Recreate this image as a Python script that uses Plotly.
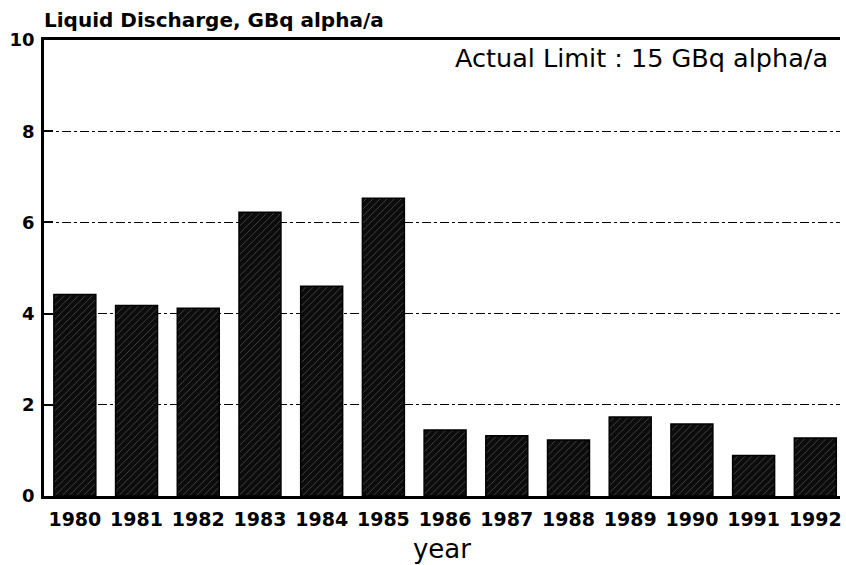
import plotly.graph_objects as go

# Annual liquid alpha discharge, GBq alpha per year
years = ["1980", "1981", "1982", "1983", "1984", "1985", "1986",
         "1987", "1988", "1989", "1990", "1991", "1992"]
discharge = [4.42, 4.18, 4.12, 6.22, 4.6, 6.53, 1.45,
             1.32, 1.23, 1.73, 1.58, 0.89, 1.27]
y_ticks = [0, 2, 4, 6, 8, 10]

FONT = "DejaVu Sans, Verdana, sans-serif"

fig = go.Figure()
fig.add_trace(go.Bar(
    x=years,
    y=discharge,
    width=0.68,
    marker=dict(
        color="#0c0c0c",
        line=dict(color="#000000", width=1.5),
        pattern=dict(shape="/", fgcolor="#9a9a9a", bgcolor="#0c0c0c",
                     size=5, solidity=0.15, fillmode="overlay"),
    ),
    hoverinfo="x+y",
))

fig.add_annotation(
    text="Actual Limit : 15 GBq alpha/a",
    xref="paper", yref="paper", x=0.988, y=0.96,
    xanchor="right", yanchor="middle", showarrow=False,
    font=dict(family=FONT, size=25.5, color="#000000"),
)
fig.add_annotation(
    text="<b>Liquid Discharge, GBq alpha/a</b>",
    xref="paper", yref="paper", x=-0.003, y=1.044,
    xanchor="left", yanchor="middle", showarrow=False,
    font=dict(family=FONT, size=20, color="#000000"),
)

fig.update_layout(
    width=846, height=565,
    margin=dict(l=44, r=4, t=40, b=69),
    paper_bgcolor="white", plot_bgcolor="white",
    showlegend=False,
    xaxis=dict(
        type="category",
        range=[-0.5, 12.4],
        tickfont=dict(family=FONT, size=19, color="#000000"),
        ticks="", showgrid=False,
        showline=True, linecolor="#000000", linewidth=3, mirror=True,
        ticklabelstandoff=4,
        title=dict(text="year", font=dict(family=FONT, size=26, color="#000000"),
                   standoff=12),
    ),
    yaxis=dict(
        range=[0, 10],
        tickvals=y_ticks,
        ticktext=[f"<b>{v}</b>" for v in y_ticks],
        tickfont=dict(family=FONT, size=18, color="#000000"),
        ticks="inside", ticklen=9, tickwidth=2, tickcolor="#000000",
        showline=True, linecolor="#000000", linewidth=2.5,
        showgrid=True, gridcolor="#000000", gridwidth=1.3, griddash="dashdot",
        zeroline=False,
        ticklabelstandoff=3,
        layer="below traces",
    ),
)
fig.update_xaxes(tickvals=years, ticktext=[f"<b>{y}</b>" for y in years])

fig.write_html("out.html")
